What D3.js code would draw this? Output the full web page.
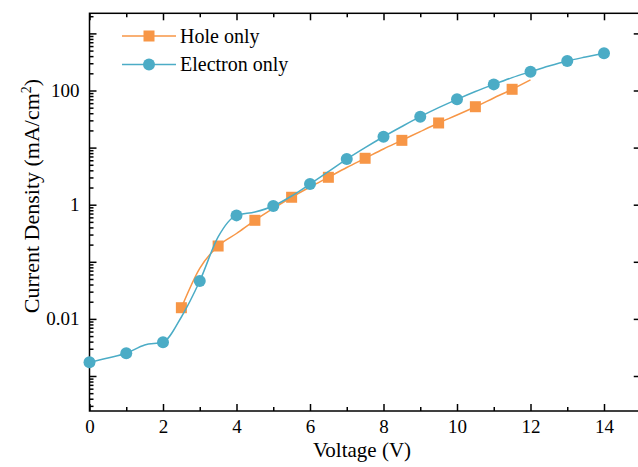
<!DOCTYPE html>
<html>
<head>
<meta charset="utf-8">
<script src="https://cdn.jsdelivr.net/npm/d3@7"></script>
<style>
  body { margin: 0; background: #fff; }
  svg text { font-family: "Liberation Serif", "Times New Roman", serif; fill: #000; }
</style>
</head>
<body>
<div id="chart"></div>
<script>
// voltage steps (V) and current density (mA/cm2)
const electronV = [0, 0.5, 1, 1.5, 2, 2.5, 3, 3.5, 4, 4.5, 5, 5.5, 6, 6.5, 7, 7.5, 8, 8.5, 9, 9.5, 10, 10.5, 11, 11.5, 12, 12.5, 13, 13.5, 14];
const electronJ = [0.00174, 0.00207, 0.0025, 0.0035, 0.0039, 0.0108, 0.046, 0.272, 0.65, 0.745, 0.95, 1.42, 2.3, 3.8, 6.3, 10, 15.5, 23.4, 34.8, 50, 70, 96, 128, 168, 213, 268, 329, 386, 448];
const holeV = [2.5, 3, 3.5, 4, 4.5, 5, 5.5, 6, 6.5, 7, 7.5, 8, 8.5, 9, 9.5, 10, 10.5, 11, 11.5, 12];
const holeJ = [0.0157, 0.077, 0.189, 0.313, 0.533, 0.86, 1.35, 2.04, 3.02, 4.48, 6.5, 9.45, 13.4, 19.1, 27, 37.2, 52, 74, 105, 153];

const xMajor = [0, 2, 4, 6, 8, 10, 12, 14];
const xMinor = [1, 3, 5, 7, 9, 11, 13, 15];
const yMajor = [1e-3, 1e-2, 1e-1, 1, 1e1, 1e2, 1e3];
const yLabeled = [1e-2, 1, 1e2];

const seriesNames = ['Hole only', 'Electron only'];
const orange = '#F79646', blue = '#4BACC6';
const serif = '"Liberation Serif", "Times New Roman", serif';

const W = 638, H = 467;
const pLeft = 89.5, pTop = 13.3, pBottom = 411, pRight = pLeft + 15 * 36.75;

const svg = d3.select('#chart').append('svg')
  .attr('width', W)
  .attr('height', H)
  .attr('font-family', serif);

const x = d3.scaleLinear().domain([0, 15]).range([pLeft, pRight]);
const y = d3.scaleLog().domain([Math.pow(10, -3.613), Math.pow(10, 3.352)]).range([pBottom, pTop]);

// minor ticks on the log axis: 2..9 in every decade inside the domain
const yMinor = [];
for (let k = -4; k <= 3; k++) {
  for (let m = 2; m <= 9; m++) {
    const v = m * Math.pow(10, k);
    if (v >= y.domain()[0] && v <= y.domain()[1]) yMinor.push(v);
  }
}

const fmt = d => (d >= 1 ? d3.format('d')(d) : d3.format('')(d));

function styleAxis(g) {
  g.attr('font-family', serif);
  g.select('.domain').remove();
  g.selectAll('line').attr('stroke', '#000').attr('stroke-width', 1.5);
  g.selectAll('text').style('font-size', '19px').style('font-family', serif).attr('fill', '#000');
}

// bottom axis
svg.append('g').attr('transform', `translate(0,${pBottom})`)
  .call(d3.axisBottom(x).tickValues(xMajor).tickSizeInner(-7).tickSizeOuter(0).tickPadding(9).tickFormat(d3.format('d')))
  .call(styleAxis);
svg.append('g').attr('transform', `translate(0,${pBottom})`)
  .call(d3.axisBottom(x).tickValues(xMinor).tickSizeInner(-4).tickSizeOuter(0).tickFormat(''))
  .call(styleAxis);
// top axis (mirror ticks)
svg.append('g').attr('transform', `translate(0,${pTop})`)
  .call(d3.axisTop(x).tickValues(xMajor).tickSizeInner(-7).tickSizeOuter(0).tickFormat(''))
  .call(styleAxis);
svg.append('g').attr('transform', `translate(0,${pTop})`)
  .call(d3.axisTop(x).tickValues(xMinor).tickSizeInner(-4).tickSizeOuter(0).tickFormat(''))
  .call(styleAxis);

// left axis
svg.append('g').attr('transform', `translate(${pLeft},0)`)
  .call(d3.axisLeft(y).tickValues(yMajor).tickSizeInner(-7).tickSizeOuter(0).tickPadding(10)
    .tickFormat(d => (yLabeled.includes(d) ? fmt(d) : '')))
  .call(styleAxis);
svg.append('g').attr('transform', `translate(${pLeft},0)`)
  .call(d3.axisLeft(y).tickValues(yMinor).tickSizeInner(-4).tickSizeOuter(0).tickFormat(''))
  .call(styleAxis);
// right axis
svg.append('g').attr('transform', `translate(${pRight},0)`)
  .call(d3.axisRight(y).tickValues(yMajor).tickSizeInner(-7).tickSizeOuter(0).tickFormat(''))
  .call(styleAxis);

// frame
svg.append('rect')
  .attr('x', pLeft).attr('y', pTop)
  .attr('width', pRight - pLeft).attr('height', pBottom - pTop)
  .attr('fill', 'none').attr('stroke', '#000').attr('stroke-width', 1.5);

// axis titles
svg.append('text')
  .attr('x', 362).attr('y', 457)
  .attr('text-anchor', 'middle')
  .style('font-size', '21px')
  .text('Voltage (V)');

const yt = svg.append('text')
  .attr('transform', 'translate(39,196) rotate(-90)')
  .attr('text-anchor', 'middle')
  .style('font-size', '22px');
yt.append('tspan').text('Current Density (mA/cm');
yt.append('tspan').attr('dy', -8).style('font-size', '14px').text('2');
yt.append('tspan').attr('dy', 8).text(')');

const line = d3.line()
  .x(d => x(d[0]))
  .y(d => y(d[1]))
  .curve(d3.curveMonotoneX);

const hole = holeV.map((v, i) => [v, holeJ[i]]);
const electron = electronV.map((v, i) => [v, electronJ[i]]);

// hole only: markers every 1 V starting at 2.5 V
svg.append('path').datum(hole)
  .attr('fill', 'none').attr('stroke', orange).attr('stroke-width', 1.5)
  .attr('d', line);
const sq = 11;
svg.selectAll('.hole').data(hole.filter(d => d[0] % 1 === 0.5))
  .join('rect').attr('class', 'hole')
  .attr('x', d => x(d[0]) - sq / 2).attr('y', d => y(d[1]) - sq / 2)
  .attr('width', sq).attr('height', sq)
  .attr('fill', orange);

// electron only: markers every 1 V
svg.append('path').datum(electron)
  .attr('fill', 'none').attr('stroke', blue).attr('stroke-width', 1.5)
  .attr('d', line);
svg.selectAll('.elec').data(electron.filter(d => d[0] % 1 === 0))
  .join('circle').attr('class', 'elec')
  .attr('cx', d => x(d[0])).attr('cy', d => y(d[1]))
  .attr('r', 6)
  .attr('fill', blue);

// legend
const legend = svg.append('g');
[orange, blue].forEach((c, i) => {
  const ly = 36 + i * 28.5;
  legend.append('line')
    .attr('x1', 122).attr('x2', 176).attr('y1', ly).attr('y2', ly)
    .attr('stroke', c).attr('stroke-width', 1.5);
  if (i === 0) {
    legend.append('rect')
      .attr('x', 149 - sq / 2).attr('y', ly - sq / 2)
      .attr('width', sq).attr('height', sq).attr('fill', c);
  } else {
    legend.append('circle').attr('cx', 149).attr('cy', ly).attr('r', 6).attr('fill', c);
  }
  legend.append('text')
    .attr('x', 180).attr('y', ly).attr('dy', '0.33em')
    .style('font-size', '20px')
    .text(seriesNames[i]);
});
</script>
</body>
</html>
